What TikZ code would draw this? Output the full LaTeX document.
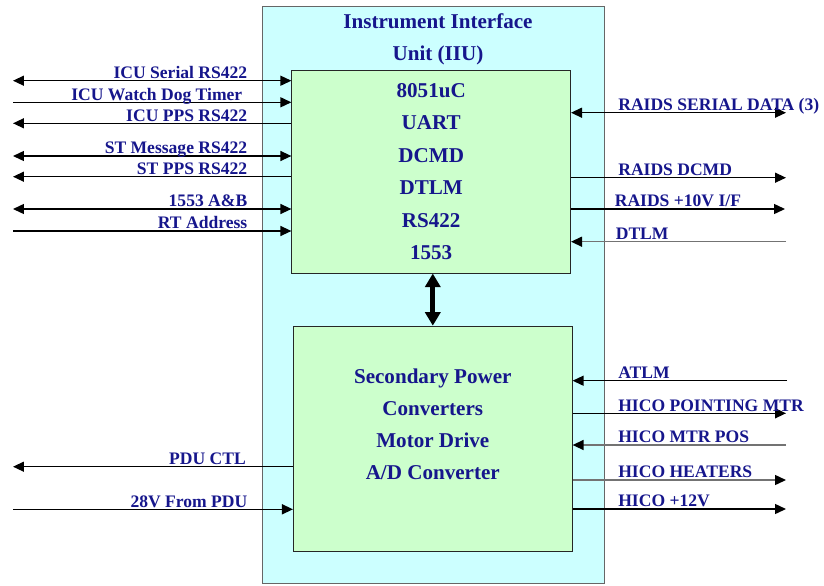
\documentclass[tikz,border=0pt]{standalone}
\usepackage{fontspec}
\setmainfont{Liberation Serif}
\usepackage{xcolor}
\usetikzlibrary{arrows.meta, positioning}

\definecolor{iiucyan}{RGB}{204,255,255}
\definecolor{boardgreen}{RGB}{204,255,204}
\definecolor{labelblue}{RGB}{22,22,140}

\begin{document}
\begin{tikzpicture}[
  x=0.02cm, y=-0.02cm,
  unit/.style={rectangle, draw=black!60, fill=iiucyan, minimum width=6.84cm, minimum height=11.54cm, inner sep=0pt},
  board/.style={rectangle, draw=black!85, fill=boardgreen, minimum width=5.58cm, inner sep=0pt},
  boardtext/.style={align=center, text=labelblue, font=\fontsize{12}{18.5}\selectfont\bfseries},
  leftlabel/.style={anchor=base east, xshift=-0.28cm, yshift=1.3pt, inner sep=0pt, text=labelblue, font=\fontsize{10}{12}\selectfont\bfseries},
  rightlabel/.style={anchor=base west, xshift=0.26cm, yshift=1.3pt, inner sep=0pt, text=labelblue, font=\fontsize{10}{12}\selectfont\bfseries},
  wire/.style={draw, line width=0.8pt, -{Triangle[length=0.22cm, width=0.2cm]}},
  dblwire/.style={wire, {Triangle[length=0.22cm, width=0.2cm]}-{Triangle[length=0.22cm, width=0.2cm]}},
  faintwire/.style={wire, draw=black!55, -{Triangle[length=0.22cm, width=0.2cm, color=black]}},
  bus/.style={draw, line width=2.8pt, {Triangle[length=0.27cm, width=0.3cm]}-{Triangle[length=0.27cm, width=0.3cm]}}
]
  \useasboundingbox (0,0) rectangle (824,585);

  % unit and its two boards
  \node [unit] (iiu) at (433.3,294.5) {};
  \node [boardtext, font=\fontsize{12}{18.4}\selectfont\bfseries] (title) at (438,39.3) {Instrument Interface\\Unit (IIU)};

  \node [board, minimum height=4.06cm, boardtext] (ctl) at (431.2,171.7)
    {8051uC\\UART\\DCMD\\DTLM\\RS422\\1553};
  \node [board, minimum height=4.5cm] (pwr) at (432.8,438.5) {};
  \node [boardtext, font=\fontsize{12}{18.2}\selectfont\bfseries] (pwrtext) at ([yshift=0.29cm]pwr.center)
    {Secondary Power\\Converters\\Motor Drive\\A/D Converter};

  \draw [bus] (pwr.north |- ctl.south) -- (pwr.north);

  % free ends, left side
  \coordinate (icuser)  at (13,80.7);
  \coordinate (icuwdt)  at (13,102.3);
  \coordinate (icupps)  at (13,123.3);
  \coordinate (stmsg)   at (13,156);
  \coordinate (stpps)   at (13,176.7);
  \coordinate (bus1553) at (13,209);
  \coordinate (rtaddr)  at (13,231);
  \coordinate (pductl)  at (13,466.7);
  \coordinate (pdu28v)  at (13,509.3);

  % free ends, right side
  \coordinate (raidsser)  at (786,112.7);
  \coordinate (raidsdcmd) at (786,177.7);
  \coordinate (raids10v)  at (785,209);
  \coordinate (dtlm)      at (786,241.7);
  \coordinate (atlm)      at (787,380.7);
  \coordinate (hicomtr)   at (786,413.3);
  \coordinate (hicopos)   at (786,445);
  \coordinate (hicoheat)  at (786,480);
  \coordinate (hico12v)   at (786,509);

  % left side signals
  \draw [dblwire] (icuser) -- (ctl.west |- icuser) node [leftlabel] at (iiu.west |- icuser) {ICU Serial RS422};
  \draw [wire] (icuwdt) -- (ctl.west |- icuwdt) node [leftlabel, xshift=-0.1cm] at (iiu.west |- icuwdt) {ICU Watch Dog Timer};
  \draw [wire] (ctl.west |- icupps) -- (icupps) node [leftlabel] at (iiu.west |- icupps) {ICU PPS RS422};
  \draw [dblwire] (stmsg) -- (ctl.west |- stmsg) node [leftlabel] at (iiu.west |- stmsg) {ST Message RS422};
  \draw [wire] (ctl.west |- stpps) -- (stpps) node [leftlabel] at (iiu.west |- stpps) {ST PPS RS422};
  \draw [dblwire] (bus1553) -- (ctl.west |- bus1553) node [leftlabel] at (iiu.west |- bus1553) {1553 A\&B};
  \draw [wire] (rtaddr) -- (ctl.west |- rtaddr) node [leftlabel] at (iiu.west |- rtaddr) {RT Address};
  \draw [wire] (pwr.west |- pductl) -- (pductl) node [leftlabel, xshift=-0.03cm] at (iiu.west |- pductl) {PDU CTL};
  \draw [wire] (pdu28v) -- (pwr.west |- pdu28v) node [leftlabel] at (iiu.west |- pdu28v) {28V From PDU};

  % right side signals
  \draw [dblwire] (ctl.east |- raidsser) -- (raidsser) node [rightlabel] at (iiu.east |- raidsser) {RAIDS SERIAL DATA (3)};
  \draw [wire] (ctl.east |- raidsdcmd) -- (raidsdcmd) node [rightlabel] at (iiu.east |- raidsdcmd) {RAIDS DCMD};
  \draw [wire] (ctl.east |- raids10v) -- (raids10v) node [rightlabel, xshift=-0.07cm] at (iiu.east |- raids10v) {RAIDS +10V I/F};
  \draw [faintwire] (dtlm) -- (ctl.east |- dtlm) node [rightlabel, xshift=-0.05cm] at (iiu.east |- dtlm) {DTLM};
  \draw [wire] (atlm) -- (pwr.east |- atlm) node [rightlabel] at (iiu.east |- atlm) {ATLM};
  \draw [wire] (pwr.east |- hicomtr) -- (hicomtr) node [rightlabel] at (iiu.east |- hicomtr) {HICO POINTING MTR};
  \draw [faintwire] (hicopos) -- (pwr.east |- hicopos) node [rightlabel] at (iiu.east |- hicopos) {HICO MTR POS};
  \draw [faintwire] (pwr.east |- hicoheat) -- (hicoheat) node [rightlabel] at (iiu.east |- hicoheat) {HICO HEATERS};
  \draw [wire] (pwr.east |- hico12v) -- (hico12v) node [rightlabel] at (iiu.east |- hico12v) {HICO +12V};
\end{tikzpicture}
\end{document}
